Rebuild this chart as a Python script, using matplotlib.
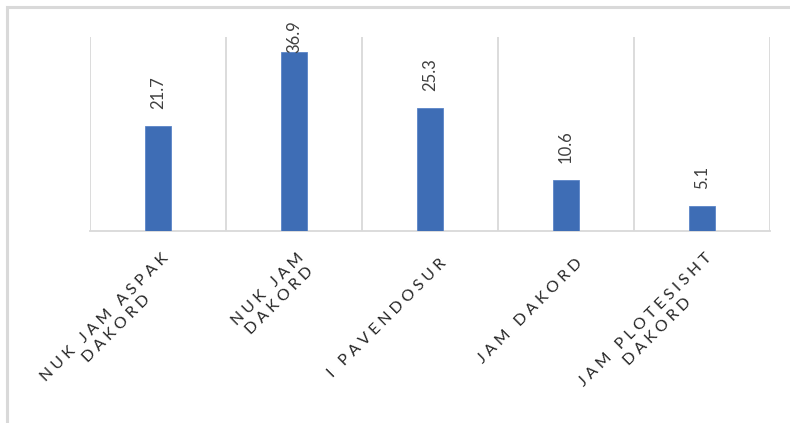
import matplotlib
matplotlib.use("Agg")
import matplotlib.pyplot as plt

# ---------------------------------------------------------------------------
# Data
# ---------------------------------------------------------------------------
CATEGORIES = ["NUK JAM ASPAK\nDAKORD", "NUK JAM\nDAKORD", "I PAVENDOSUR",
              "JAM DAKORD", "JAM PLOTESISHT\nDAKORD"]
VALUES = [21.7, 36.9, 25.3, 10.6, 5.1]

BAR_COLOR  = "#3E6DB5"
GRID_COLOR = "#D9D9D9"
TEXT_COLOR = "#404040"
FONT       = ["Lato", "DejaVu Sans"]

plt.rcParams["font.family"] = FONT


def spaced(label, sep="\u2009\u2009"):
    """Emulate Excel's expanded character spacing."""
    return "\n".join(sep.join(line) for line in label.split("\n"))


fig = plt.figure(figsize=(7.9, 4.23), dpi=100)
W, H = 790, 423

# chart-area frame: only left and top edges fall inside the image
fx, fy = 7 / W, 1 - 7 / H
fig.add_artist(plt.Line2D([fx, fx, 1.05], [-0.05, fy, fy],
                          transform=fig.transFigure, color=GRID_COLOR,
                          linewidth=2.2, solid_joinstyle="miter"))

ax = fig.add_axes([90 / W, 1 - 231 / H, 680 / W, 194 / H])
x = list(range(len(VALUES)))
ax.bar(x, VALUES, width=0.185, color=BAR_COLOR, edgecolor="#5B85C8",
       linewidth=0.6, zorder=3)

ax.set_xlim(-0.5, len(VALUES) - 0.5)
ax.set_ylim(0, 40)
ax.set_yticks([])
ax.set_xticks([])
for b in range(len(VALUES) + 1):
    ax.axvline(b - 0.5, color=GRID_COLOR, linewidth=1.3, zorder=1)
for s in ["top", "left", "right"]:
    ax.spines[s].set_visible(False)
ax.spines["bottom"].set_color(GRID_COLOR)
ax.spines["bottom"].set_linewidth(1.3)

# value labels, pushed down when they would leave the chart area
label_h = 7.6
top_lim = 44.4
for xi, v in zip(x, VALUES):
    y0 = min(v + 3.5, top_lim - label_h)
    ax.text(xi, y0, f"{v:.1f}", rotation=90, ha="center", va="bottom",
            fontsize=12, color=TEXT_COLOR, clip_on=False)

# rotated category labels
for xi, lab in zip(x, CATEGORIES):
    ax.annotate(spaced(lab), xy=(xi, 0), xycoords="data",
                xytext=(10, -22), textcoords="offset points",
                rotation=45, rotation_mode="anchor", ha="right", va="center",
                multialignment="center", fontsize=11.5, color="#262626",
                linespacing=1.25, annotation_clip=False)

plt.savefig("out.png", dpi=100)
